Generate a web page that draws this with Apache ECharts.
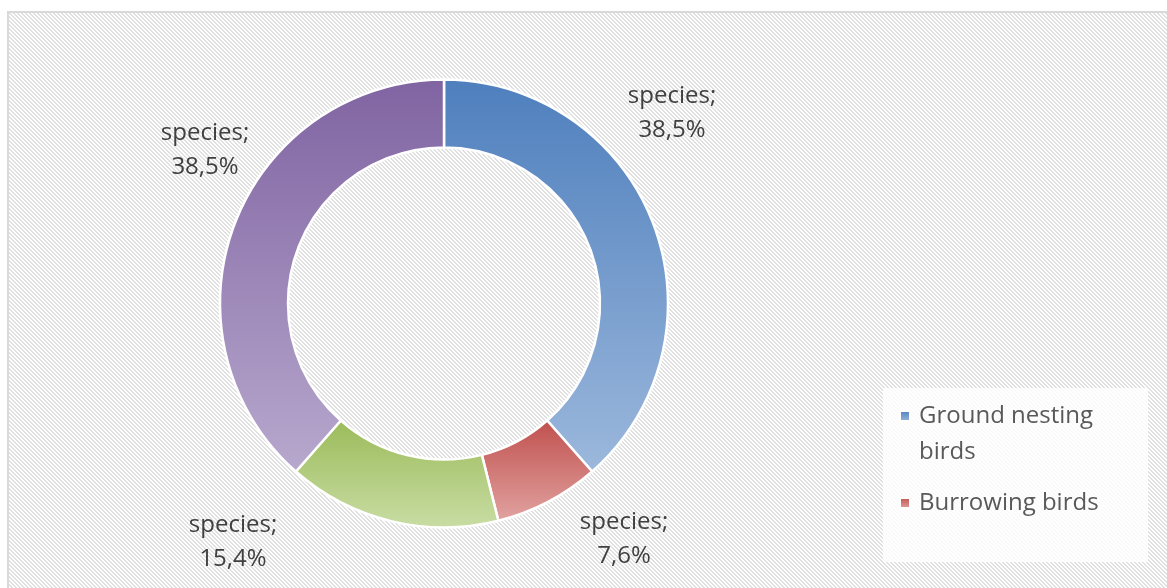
<!DOCTYPE html>
<html>
<head>
<meta charset="utf-8">
<script src="https://cdn.jsdelivr.net/npm/echarts@6/dist/echarts.min.js"></script>
<style>
html,body{margin:0;padding:0;background:#fff;}
#chart{width:1167px;height:588px;}
</style>
</head>
<body>
<div id="chart"></div>
<script>
// ---- data ----
const seriesName = 'species';
const categories = ['Ground nesting birds', 'Burrowing birds', 'Tree nesting birds', 'Cavity nesting birds'];
const values = [38.5, 7.6, 15.4, 38.5];
const legendShown = ['Ground nesting birds', 'Burrowing birds'];

// ---- styles ----
const gradients = [
  ['#4e7fbd', '#9cb8dc'],
  ['#c0504d', '#e1a3a1'],
  ['#9bbb59', '#c9dda5'],
  ['#8064a2', '#b7a8cd']
];
const labelPos = [[672, 113], [624, 539], [233, 542], [205, 150]];

function grad(c) {
  return new echarts.graphic.LinearGradient(0, 0, 0, 1, [
    { offset: 0, color: c[0] }, { offset: 1, color: c[1] }
  ]);
}

// hatch pattern
const pc = document.createElement('canvas');
pc.width = 8; pc.height = 8;
const pctx = pc.getContext('2d');
pctx.fillStyle = '#ffffff';
pctx.fillRect(0, 0, 8, 8);
pctx.fillStyle = '#e0e0e0';
for (let y = 0; y < 8; y++) {
  for (let x = 0; x < 8; x++) {
    const m = ((x - y) % 4 + 4) % 4;
    if (m === 0 || m === 1) pctx.fillRect(x, y, 1, 1);
  }
}

const chart = echarts.init(document.getElementById('chart'), null, { renderer: 'canvas' });
const fontFamily = '"Open Sans", "Noto Sans", sans-serif';

const option = {
  backgroundColor: '#ffffff',
  animation: false,
  graphic: [
    {
      type: 'rect', z: -10, silent: true,
      shape: { x: 8, y: 12, width: 1200, height: 620 },
      style: { fill: { image: pc, repeat: 'repeat' }, stroke: '#d9d9d9', lineWidth: 2 }
    },
    {
      type: 'rect', z: -5, silent: true,
      shape: { x: 883, y: 388, width: 265, height: 174 },
      style: { fill: 'rgba(255,255,255,0.82)' }
    }
  ],
  legend: {
    orient: 'vertical',
    left: 899,
    top: 362,
    padding: 0,
    itemGap: 15,
    itemWidth: 10,
    itemHeight: 10,
    icon: 'rect',
    selectedMode: false,
    formatter: function (name) {
      // blank first line keeps the marker level with the first text line
      return name === 'Ground nesting birds' ? ' \nGround nesting\nbirds' : name;
    },
    textStyle: { fontFamily: fontFamily, fontSize: 24, color: '#595959', lineHeight: 36, padding: [0, 0, 0, 4] },
    data: legendShown
  },
  series: [{
    name: seriesName,
    type: 'pie',
    center: [444, 303.5],
    radius: [156, 224],
    startAngle: 90,
    clockwise: true,
    avoidLabelOverlap: false,
    itemStyle: { borderColor: '#ffffff', borderWidth: 2.5 },
    emphasis: { disabled: true },
    label: {
      show: true,
      position: 'outside',
      fontFamily: fontFamily,
      fontSize: 24,
      lineHeight: 34,
      color: '#404040',
      formatter: function (p) {
        return p.seriesName + ';\n' + p.value.toFixed(1).replace('.', ',') + '%';
      }
    },
    labelLine: { show: false },
    labelLayout: function (p) {
      const pos = labelPos[p.dataIndex];
      return { x: pos[0], y: pos[1], align: 'center', verticalAlign: 'middle' };
    },
    data: categories.map(function (c, i) {
      return { name: c, value: values[i], itemStyle: { color: grad(gradients[i]) } };
    })
  }]
};
chart.setOption(option);
</script>
</body>
</html>
